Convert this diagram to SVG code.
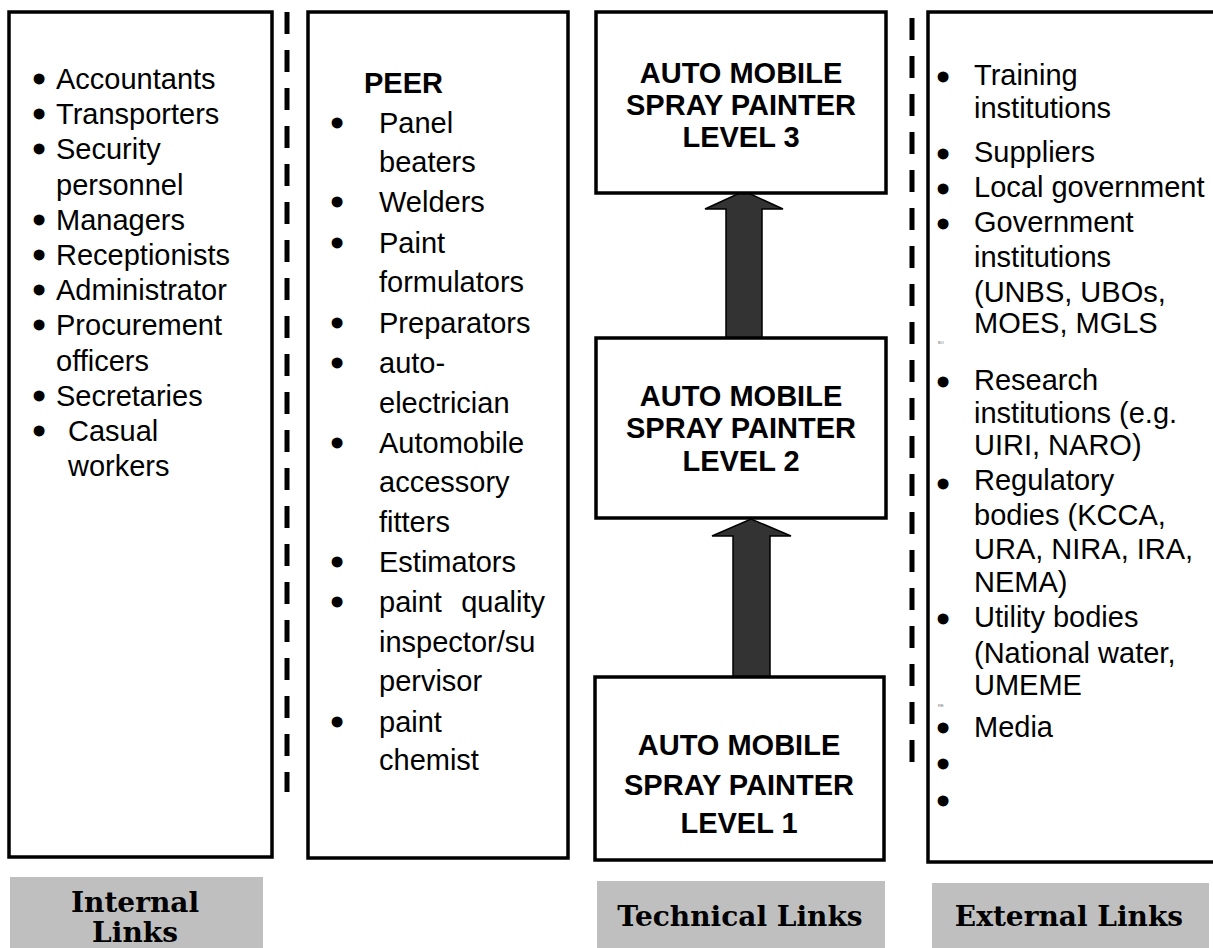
<svg xmlns="http://www.w3.org/2000/svg" width="1213" height="948" viewBox="0 0 1213 948">
  <style>
    .box { fill: #fff; stroke: #000; stroke-width: 3.5; }
    .divider { stroke: #000; stroke-width: 5; stroke-dasharray: 22 16; fill: none; }
    .arrow { fill: #333; stroke: #000; stroke-width: 1.5; stroke-linejoin: miter; }
    .item { font-family: "Liberation Sans", Arial, sans-serif; font-size: 29px; fill: #000; }
    .bullet { font-family: "Liberation Sans", Arial, sans-serif; font-size: 29px; fill: #000; stroke: #000; stroke-width: 3; text-anchor: middle; }
    .level { font-family: "Liberation Sans", Arial, sans-serif; font-size: 29px; font-weight: bold; fill: #000; text-anchor: middle; }
    .tag { fill: #bfbfbf; }
    .tagtext { font-family: "DejaVu Serif", serif; font-size: 28px; font-weight: bold; fill: #000; text-anchor: middle; }
    .tiny { font-family: "Liberation Sans", Arial, sans-serif; font-size: 4px; fill: #666; }
  </style>
  <rect width="1213" height="948" fill="#fff"/>

  <!-- dashed separators between the columns and the level arrows -->
  <g id="connectors">
    <line class="divider" x1="287" y1="12" x2="287" y2="792"/>
    <line class="divider" x1="912" y1="18" x2="912" y2="764"/>
    <polygon class="arrow" points="726,338 726,209 705,209 744,191 783,209 762,209 762,338"/>
    <polygon class="arrow" points="733,677 733,536 712,536 751,519 791,536 770,536 770,677"/>
  </g>

  <!-- internal links column -->
  <g id="internal">
    <rect class="box" x="9" y="12" width="263" height="845"/>
    <text class="bullet" x="39" y="89">•</text><text class="item" x="56" y="89">Accountants</text>
    <text class="bullet" x="39" y="124">•</text><text class="item" x="56" y="124">Transporters</text>
    <text class="bullet" x="39" y="159">•</text><text class="item" x="56" y="159">Security</text>
    <text class="item" x="56" y="195">personnel</text>
    <text class="bullet" x="39" y="230">•</text><text class="item" x="56" y="230">Managers</text>
    <text class="bullet" x="39" y="265">•</text><text class="item" x="56" y="265">Receptionists</text>
    <text class="bullet" x="39" y="300">•</text><text class="item" x="56" y="300">Administrator</text>
    <text class="bullet" x="39" y="335">•</text><text class="item" x="56" y="335">Procurement</text>
    <text class="item" x="56" y="371">officers</text>
    <text class="bullet" x="39" y="406">•</text><text class="item" x="56" y="406">Secretaries</text>
    <text class="bullet" x="39" y="441">•</text><text class="item" x="68" y="441">Casual</text>
    <text class="item" x="68" y="476">workers</text>
  </g>

  <!-- peer column -->
  <g id="peer">
    <rect class="box" x="308" y="12" width="260" height="846"/>
    <text class="item" x="364" y="93" font-weight="bold">PEER</text>
    <text class="bullet" x="337" y="133">•</text><text class="item" x="379" y="133">Panel</text>
    <text class="item" x="379" y="172">beaters</text>
    <text class="bullet" x="337" y="212">•</text><text class="item" x="379" y="212">Welders</text>
    <text class="bullet" x="337" y="253">•</text><text class="item" x="379" y="253">Paint</text>
    <text class="item" x="379" y="292">formulators</text>
    <text class="bullet" x="337" y="333">•</text><text class="item" x="379" y="333">Preparators</text>
    <text class="bullet" x="337" y="373">•</text><text class="item" x="379" y="373">auto-</text>
    <text class="item" x="379" y="413">electrician</text>
    <text class="bullet" x="337" y="453">•</text><text class="item" x="379" y="453">Automobile</text>
    <text class="item" x="379" y="492">accessory</text>
    <text class="item" x="379" y="532">fitters</text>
    <text class="bullet" x="337" y="572">•</text><text class="item" x="379" y="572">Estimators</text>
    <text class="bullet" x="337" y="612">•</text><text class="item" x="379" y="612">paint</text><text class="item" x="545" y="612" text-anchor="end">quality</text>
    <text class="item" x="379" y="652">inspector/su</text>
    <text class="item" x="379" y="691">pervisor</text>
    <text class="bullet" x="337" y="732">•</text><text class="item" x="379" y="732">paint</text>
    <text class="item" x="379" y="770">chemist</text>
  </g>

  <!-- technical progression levels -->
  <g id="level3">
    <rect class="box" x="596" y="12" width="290" height="181"/>
    <text class="level" x="741" y="83">AUTO MOBILE</text>
    <text class="level" x="741" y="115">SPRAY PAINTER</text>
    <text class="level" x="741" y="147">LEVEL 3</text>
  </g>
  <g id="level2">
    <rect class="box" x="596" y="338" width="290" height="180"/>
    <text class="level" x="741" y="406">AUTO MOBILE</text>
    <text class="level" x="741" y="438">SPRAY PAINTER</text>
    <text class="level" x="741" y="471">LEVEL 2</text>
  </g>
  <g id="level1">
    <rect class="box" x="595" y="677" width="289" height="183"/>
    <text class="level" x="739" y="755">AUTO MOBILE</text>
    <text class="level" x="739" y="795">SPRAY PAINTER</text>
    <text class="level" x="739" y="833">LEVEL 1</text>
  </g>

  <!-- external links column -->
  <g id="external">
    <rect class="box" x="928" y="12" width="300" height="850"/>
    <text class="bullet" x="943" y="87">•</text><text class="item" x="974" y="85">Training</text>
    <text class="item" x="974" y="118">institutions</text>
    <text class="bullet" x="943" y="164">•</text><text class="item" x="974" y="162">Suppliers</text>
    <text class="bullet" x="943" y="199">•</text><text class="item" x="974" y="197">Local government</text>
    <text class="bullet" x="943" y="234">•</text><text class="item" x="974" y="232">Government</text>
    <text class="item" x="974" y="267">institutions</text>
    <text class="item" x="974" y="302">(UNBS, UBOs,</text>
    <text class="item" x="974" y="333">MOES, MGLS</text>
    <text class="tiny" x="938" y="344">BO</text>
    <text class="bullet" x="943" y="392">•</text><text class="item" x="974" y="390">Research</text>
    <text class="item" x="974" y="423">institutions (e.g.</text>
    <text class="item" x="974" y="455">UIRI, NARO)</text>
    <text class="bullet" x="943" y="494">•</text><text class="item" x="974" y="490">Regulatory</text>
    <text class="item" x="974" y="525">bodies (KCCA,</text>
    <text class="item" x="974" y="559">URA, NIRA, IRA,</text>
    <text class="item" x="974" y="592">NEMA)</text>
    <text class="bullet" x="943" y="629">•</text><text class="item" x="974" y="627">Utility bodies</text>
    <text class="item" x="974" y="663">(National water,</text>
    <text class="item" x="974" y="695">UMEME</text>
    <text class="tiny" x="938" y="707">RE</text>
    <text class="bullet" x="943" y="738">•</text><text class="item" x="974" y="737">Media</text>
    <text class="bullet" x="943" y="774">•</text>
    <text class="bullet" x="943" y="811">•</text>
  </g>

  <!-- column captions -->
  <g id="caption-internal">
    <rect class="tag" x="10" y="877" width="253" height="71"/>
    <text class="tagtext" x="135" y="912">Internal</text>
    <text class="tagtext" x="135" y="942">Links</text>
  </g>
  <g id="caption-technical">
    <rect class="tag" x="597" y="881" width="288" height="67"/>
    <text class="tagtext" x="740" y="926">Technical Links</text>
  </g>
  <g id="caption-external">
    <rect class="tag" x="932" y="883" width="277" height="65"/>
    <text class="tagtext" x="1069" y="926">External Links</text>
  </g>
</svg>
